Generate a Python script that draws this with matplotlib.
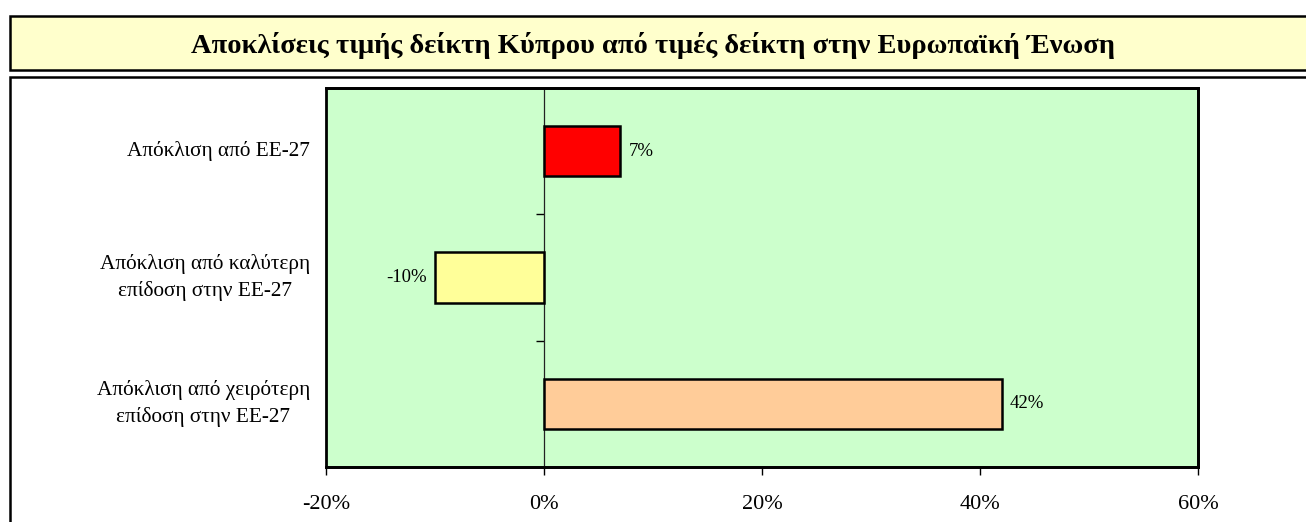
import matplotlib
matplotlib.use("Agg")
import matplotlib.pyplot as plt
from matplotlib.patches import Rectangle
from matplotlib.ticker import FuncFormatter, FixedLocator
from matplotlib.transforms import blended_transform_factory

plt.rcParams['font.family'] = ['Liberation Serif', 'DejaVu Serif']

title = "Αποκλίσεις τιμής δείκτη Κύπρου από τιμές δείκτη στην Ευρωπαϊκή Ένωση"
categories = [
    "Απόκλιση από ΕΕ-27",
    "Απόκλιση από καλύτερη\nεπίδοση στην ΕΕ-27",
    "Απόκλιση από χειρότερη\nεπίδοση στην ΕΕ-27",
]
values = [7, -10, 42]          # percent
bar_colors = ["#FF0000", "#FFFF99", "#FFCC99"]
x_ticks = [-20, 0, 20, 40, 60]

W, H, DPI = 1306, 522, 100
fig = plt.figure(figsize=(W / DPI, H / DPI), dpi=DPI)
fig.patch.set_facecolor("white")


def px_rect(x0, y0, x1, y1):
    """Figure-fraction rectangle from pixel coordinates measured from the top-left."""
    return x0 / W, 1 - y1 / H, (x1 - x0) / W, (y1 - y0) / H


# Title banner
bx, by, bw, bh = px_rect(10, 16, 1320, 70)
fig.add_artist(Rectangle((bx, by), bw, bh, transform=fig.transFigure,
                         facecolor="#FFFFCC", edgecolor="black", linewidth=1.8,
                         clip_on=False))
fig.text(0.5, 1 - 53 / H, title, ha="center", va="baseline",
         fontsize=20.5, fontweight="bold")

# Chart frame
cx, cy, cw, ch = px_rect(10, 77, 1320, 540)
fig.add_artist(Rectangle((cx, cy), cw, ch, transform=fig.transFigure,
                         facecolor="white", edgecolor="black", linewidth=1.8,
                         clip_on=False, zorder=0))

# Plot area
ax = fig.add_axes(px_rect(326, 88, 1198, 467))
ax.set_facecolor("#CCFFCC")
ax.set_zorder(2)

ypos = list(range(len(categories)))
ax.barh(ypos, values, height=0.40, color=bar_colors, edgecolor="black",
        linewidth=1.8, zorder=3)

ax.set_xlim(x_ticks[0], x_ticks[-1])
ax.set_ylim(len(categories) - 0.5, -0.5)

# Value labels next to the bars
for y, v in zip(ypos, values):
    off = 0.75 if v >= 0 else -0.75
    ax.text(v + off, y, f"{v}%", ha="left" if v >= 0 else "right",
            va="center", fontsize=13.5, zorder=4)

# Frame of the plot area
for side in ("top", "right", "bottom"):
    ax.spines[side].set_linewidth(2.0)
ax.spines["left"].set_position(("data", 0))
ax.spines["left"].set_linewidth(0.9)
ax.spines["left"].set_color("#222222")
ax.add_patch(Rectangle((0, 0), 1, 1, transform=ax.transAxes, fill=False,
                       edgecolor="black", linewidth=2.0, zorder=5, clip_on=False))

# Horizontal axis
ax.xaxis.set_major_locator(FixedLocator(x_ticks))
ax.xaxis.set_major_formatter(FuncFormatter(lambda v, p: f"{v:.0f}%"))
ax.tick_params(axis="x", direction="out", length=6, width=1.0,
               labelsize=16, pad=14)

# Vertical axis: tick marks between categories on the zero line
ax.yaxis.set_major_locator(FixedLocator([i + 0.5 for i in ypos[:-1]]))
ax.tick_params(axis="y", direction="out", length=6, width=1.0,
               labelleft=False)

# Category labels on the left of the plot area
tr = blended_transform_factory(ax.transAxes, ax.transData)
for y, name in zip(ypos, categories):
    ax.text(-16 / (1198 - 326), y, name, transform=tr, ha="right",
            va="center", multialignment="center", fontsize=15.3,
            linespacing=1.45, clip_on=False)

fig.savefig("out.png", dpi=DPI)
